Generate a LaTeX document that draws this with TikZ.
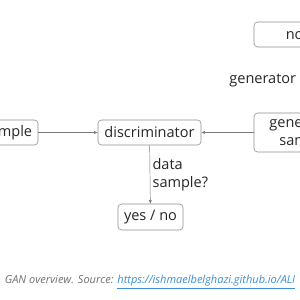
\documentclass[tikz,border=0pt]{standalone}
\usepackage{fontspec}
\setmainfont{Open Sans}
\usetikzlibrary{arrows.meta}
\definecolor{boxgray}{HTML}{8E8E8E}
\definecolor{arrowgray}{HTML}{7A7A7A}
\definecolor{textdark}{HTML}{262626}
\definecolor{capgray}{HTML}{707070}
\definecolor{linkblue}{HTML}{3C8DD6}
\tikzset{
  gbox/.style={draw=boxgray, rounded corners=3pt, line width=0.5pt,
    text=textdark, font=\fontsize{12.4}{15.5}\selectfont, align=center, inner sep=0pt},
  garrow/.style={draw=arrowgray, line width=0.4pt, -{Latex[length=3pt,width=2.6pt]}},
  glabel/.style={text=textdark, font=\fontsize{12.4}{15.5}\selectfont, align=left},
}
\begin{document}
\begin{tikzpicture}[x=0.03cm,y=-0.03cm]
\useasboundingbox (0,0) rectangle (300,300);
\clip (0,0) rectangle (300,300);
% boxes
\node[gbox, minimum width=95*0.03cm, minimum height=25*0.03cm] (datasample) at (-9.5,132.5) {data sample};
\node[gbox, minimum width=103*0.03cm, minimum height=25*0.03cm] (disc) at (149.5,132.5) {discriminator};
\node[gbox, minimum width=100*0.03cm, minimum height=39*0.03cm] (gensample) at (304,132.5) {generated\\sample};
\node[gbox, minimum width=100*0.03cm, minimum height=25*0.03cm] (noise) at (304,34.5) {noise};
\node[gbox, minimum width=65*0.03cm, minimum height=26*0.03cm] (yesno) at (150.5,217) {yes / no};
% connectors
\draw[garrow] (datasample) -- (disc);
\draw[garrow] (gensample) -- (disc);
\draw[garrow] (noise) -- node[glabel, left, inner sep=6.5pt] {generator} (gensample);
\draw[garrow] (disc) -- node[glabel, right, inner sep=2pt] {data\\sample?} (yesno);
% caption
\node[font=\fontsize{9.4}{11}\selectfont\itshape, text=capgray, inner sep=0pt] (caption) at (150,282)
  {GAN overview. Source: {\color{linkblue}\underline{https://ishmaelbelghazi.github.io/ALI}}};
\end{tikzpicture}
\end{document}
